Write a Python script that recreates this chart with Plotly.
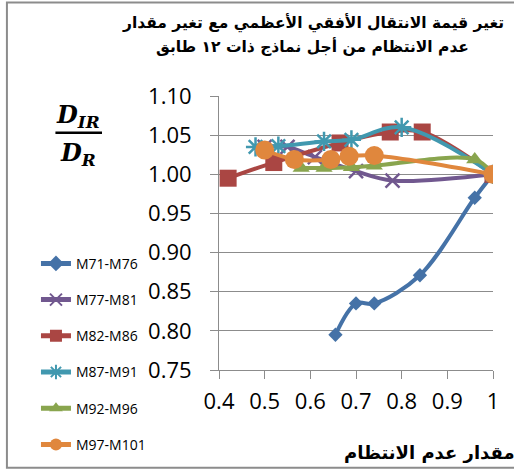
import plotly.graph_objects as go

# Irregularity ratio (x) vs. normalised max horizontal displacement D_IR/D_R (y)
series_names = ["M71-M76", "M77-M81", "M82-M86", "M87-M91", "M92-M96", "M97-M101"]

x_m71 = [0.655, 0.70, 0.74, 0.84, 0.96, 1.0]
y_m71 = [0.795, 0.835, 0.835, 0.871, 0.970, 1.0]

x_m77 = [0.50, 0.55, 0.61, 0.70, 0.78, 1.0]
y_m77 = [1.035, 1.035, 1.022, 1.004, 0.992, 1.0]

x_m82 = [0.42, 0.52, 0.665, 0.775, 0.845, 1.0]
y_m82 = [0.995, 1.015, 1.040, 1.054, 1.054, 1.0]

x_m87 = [0.48, 0.53, 0.63, 0.69, 0.80, 1.0]
y_m87 = [1.035, 1.036, 1.042, 1.044, 1.060, 1.0]

x_m92 = [0.58, 0.63, 0.69, 0.74, 0.96, 1.0]
y_m92 = [1.008, 1.008, 1.009, 1.011, 1.019, 1.0]

x_m97 = [0.50, 0.565, 0.645, 0.685, 0.74, 1.0]
y_m97 = [1.031, 1.019, 1.019, 1.023, 1.024, 1.0]

x_ticks = [0.4, 0.5, 0.6, 0.7, 0.8, 0.9, 1.0]
x_tick_text = ["0.4", "0.5", "0.6", "0.7", "0.8", "0.9", "1"]
y_ticks = [0.75, 0.80, 0.85, 0.90, 0.95, 1.00, 1.05, 1.10]

title_lines = [
    "تغير قيمة الانتقال الأفقي الأعظمي مع تغير مقدار",
    "عدم الانتظام من أجل نماذج ذات ١٢ طابق",
]

xs = [x_m71, x_m77, x_m82, x_m87, x_m92, x_m97]
ys = [y_m71, y_m77, y_m82, y_m87, y_m92, y_m97]

colors = ["#4572A7", "#71588F", "#AA4643", "#4198AF", "#89A54E", "#E0873D"]
symbols = ["diamond", "x-thin-open", "square", "asterisk-open", "triangle-up", "circle"]
sizes = [11, 14, 17, 16, 15, 19]

fig = go.Figure()
for i, name in enumerate(series_names):
    open_sym = symbols[i].endswith("open")
    fig.add_trace(go.Scatter(
        x=xs[i], y=ys[i], name=name, mode="lines+markers",
        legendgroup=name,
        line=dict(color=colors[i], width=4, shape="spline"),
        marker=dict(symbol=symbols[i], size=sizes[i], color=colors[i],
                    line=dict(color=colors[i], width=2.5 if open_sym else 0)),
    ))

axis_grey = "#8C8C8C"
fig.update_layout(
    width=514, height=473,
    margin=dict(l=219, r=21, t=96, b=101),
    paper_bgcolor="white", plot_bgcolor="white",
    font=dict(family="Open Sans", color="black"),
    xaxis=dict(
        range=[0.4, 1.0], tickvals=x_ticks, ticktext=x_tick_text,
        showgrid=False, zeroline=False,
        showline=True, linecolor=axis_grey, linewidth=1,
        ticks="outside", ticklen=8, tickcolor=axis_grey,
        tickfont=dict(size=22, family="Open Sans"),
        ticklabelstandoff=4,
    ),
    yaxis=dict(
        range=[0.75, 1.10], tickvals=y_ticks, tickformat=".2f",
        showgrid=True, gridcolor=axis_grey, gridwidth=1, zeroline=False,
        showline=True, linecolor=axis_grey, linewidth=1,
        ticks="outside", ticklen=8, tickcolor=axis_grey,
        tickfont=dict(size=22, family="Open Sans"),
        ticklabelstandoff=14,
    ),
    legend=dict(
        x=-0.668, xanchor="left", y=0.446, yanchor="top",
        font=dict(size=14, family="Open Sans"),
        traceorder="grouped", tracegroupgap=15,
        bgcolor="rgba(0,0,0,0)", itemsizing="constant",
    ),
    showlegend=True,
)

# chart title: each line centred on its own
for line_text, y_pos in zip(title_lines, [1.268, 1.181]):
    fig.add_annotation(
        text="<b>" + line_text + "</b>",
        xref="paper", yref="paper", x=0.343, y=y_pos, xanchor="center", yanchor="middle",
        showarrow=False, font=dict(family="DejaVu Sans", size=15.5, color="black"),
    )

# y-axis label written as the fraction D_IR / D_R
fig.add_annotation(text="<b><i>D<sub>IR</sub></i></b>", xref="paper", yref="paper",
                   x=-0.514, y=0.927, xanchor="center", yanchor="middle", showarrow=False,
                   font=dict(family="DejaVu Serif", size=24, color="black"))
fig.add_shape(type="line", xref="paper", yref="paper",
              x0=-0.597, x1=-0.427, y0=0.866, y1=0.866,
              line=dict(color="black", width=2.5))
fig.add_annotation(text="<b><i>D<sub>R</sub></i></b>", xref="paper", yref="paper",
                   x=-0.514, y=0.790, xanchor="center", yanchor="middle", showarrow=False,
                   font=dict(family="DejaVu Serif", size=24, color="black"))

# x-axis title
fig.add_annotation(text="<b>مقدار عدم الانتظام</b>", xref="paper", yref="paper",
                   x=0.770, y=-0.301, xanchor="center", yanchor="middle", showarrow=False,
                   font=dict(family="DejaVu Sans", size=18, color="black"))

# chart-area frame
fig.add_shape(type="rect", xref="paper", yref="paper",
              x0=-0.774, x1=1.084, y0=-0.357, y1=1.341,
              line=dict(color="#8C8C8C", width=2), fillcolor="rgba(0,0,0,0)", layer="below")

fig.write_html("out.html")
